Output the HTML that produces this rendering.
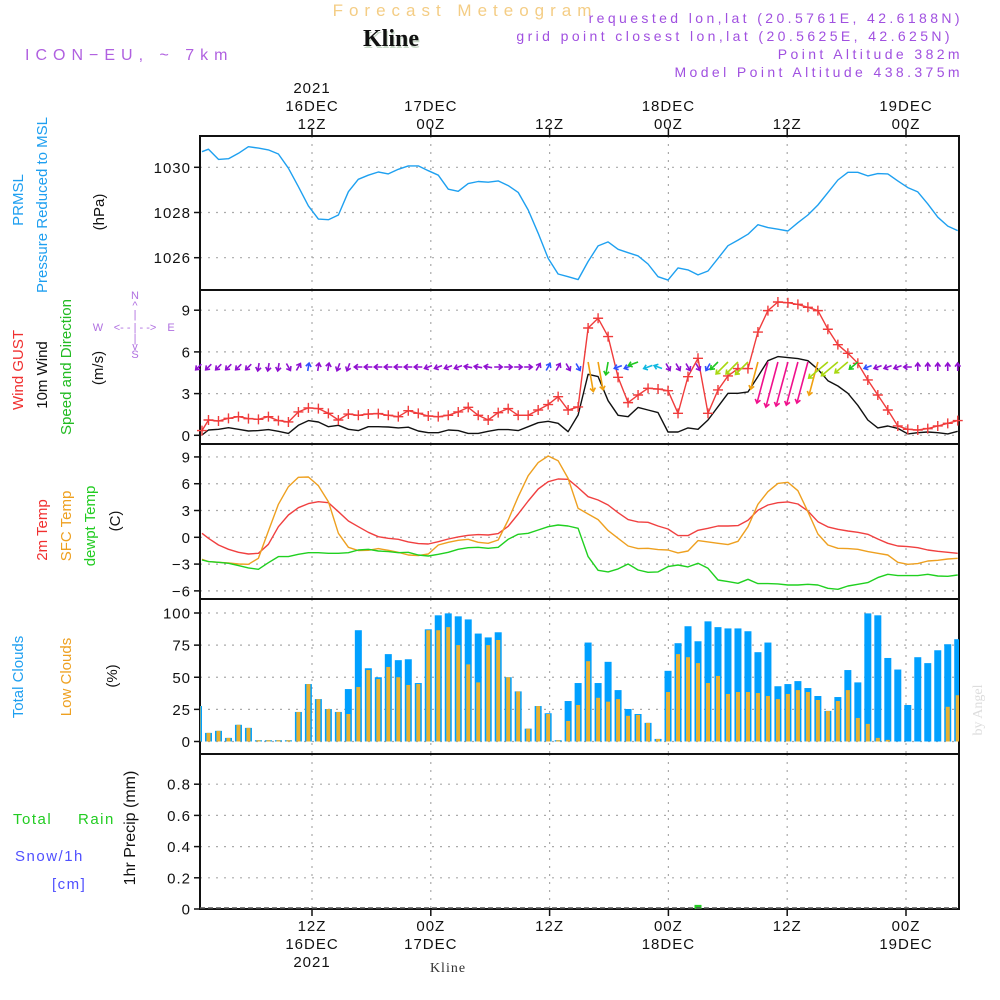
<!DOCTYPE html>
<html><head><meta charset="utf-8">
<style>
html,body{margin:0;padding:0;background:#fff;}
svg{display:block;font-family:"Liberation Sans",sans-serif;}
.tk{font-size:15px;fill:#111;letter-spacing:1px;}
</style></head>
<body>
<svg id="chart" width="1000" height="1000" viewBox="0 0 1000 1000" xmlns="http://www.w3.org/2000/svg">
<text x="465" y="16" text-anchor="middle" font-size="17" fill="#f4cd85" letter-spacing="6">Forecast Meteogram</text>
<text x="392" y="48" text-anchor="middle" font-size="24" font-weight="bold" font-family="Liberation Serif,serif" fill="#c8d8c8">Kline</text>
<text x="391" y="46" text-anchor="middle" font-size="24" font-weight="bold" font-family="Liberation Serif,serif" fill="#111">Kline</text>
<text x="25" y="60" font-size="16" fill="#b060e0" letter-spacing="6">ICON−EU, ~ 7km</text>
<g font-size="14" fill="#a050e0" text-anchor="end" letter-spacing="3.4">
<text x="963" y="23">requested lon,lat (20.5761E, 42.6188N)</text>
<text x="953" y="41">grid point closest lon,lat (20.5625E, 42.625N)</text>
<text x="963" y="59">Point Altitude 382m</text>
<text x="963" y="77">Model Point Altitude 438.375m</text>
</g>
<g id="axes"></g>
<g id="marks"></g>
<g font-size="15">
<text transform="translate(23,200) rotate(-90)" text-anchor="middle" fill="#1e9ff0">PRMSL</text>
<text transform="translate(47,205) rotate(-90)" text-anchor="middle" fill="#1e9ff0">Pressure Reduced to MSL</text>
<text transform="translate(104,212) rotate(-90)" text-anchor="middle" fill="#111">(hPa)</text>
<text transform="translate(23,370) rotate(-90)" text-anchor="middle" fill="#f03030">Wind GUST</text>
<text transform="translate(47,375) rotate(-90)" text-anchor="middle" fill="#111">10m Wind</text>
<text transform="translate(71,367) rotate(-90)" text-anchor="middle" fill="#22bb22">Speed and Direction</text>
<text transform="translate(103,368) rotate(-90)" text-anchor="middle" fill="#111">(m/s)</text>
<g fill="#b070e0" font-size="11" text-anchor="middle">
<text x="135" y="299">N</text><text x="135" y="309">^</text><text x="135" y="318">|</text>
<text x="98" y="331">W</text><text x="135" y="331">&lt;- - | - -&gt;</text><text x="171" y="331">E</text>
<text x="135" y="342">|</text><text x="135" y="350">v</text><text x="135" y="358">S</text>
</g>
<text transform="translate(47,530) rotate(-90)" text-anchor="middle" fill="#f03030">2m Temp</text>
<text transform="translate(71,526) rotate(-90)" text-anchor="middle" fill="#eea020">SFC Temp</text>
<text transform="translate(95,526) rotate(-90)" text-anchor="middle" fill="#22cc22">dewpt Temp</text>
<text transform="translate(120,521) rotate(-90)" text-anchor="middle" fill="#111">(C)</text>
<text transform="translate(23,677) rotate(-90)" text-anchor="middle" fill="#1e9ff0">Total Clouds</text>
<text transform="translate(71,677) rotate(-90)" text-anchor="middle" fill="#eea020">Low Clouds</text>
<text transform="translate(117,676) rotate(-90)" text-anchor="middle" fill="#111">(%)</text>
<text x="13" y="824" fill="#22cc22" letter-spacing="1.5">Total</text>
<text x="78" y="824" fill="#22cc22" letter-spacing="1.5">Rain</text>
<text x="15" y="861" fill="#5050ff" letter-spacing="1.5">Snow/1h</text>
<text x="52" y="889" fill="#5050ff" letter-spacing="1.5">[cm]</text>
<text transform="translate(135,828) rotate(-90)" text-anchor="middle" fill="#111" font-size="16">1hr Precip (mm)</text>
</g>
<text transform="translate(982,710) rotate(-90)" text-anchor="middle" font-size="14" fill="#dddddd" font-family="Liberation Serif,serif">by Angel</text>
<text x="448" y="972" text-anchor="middle" font-size="14" fill="#333" font-family="Liberation Serif,serif" letter-spacing="1">Kline</text>
</svg>
<script>
// ---- data (hourly, index 0..76) ----
const pressure = [1030.69,1030.80,1030.35,1030.38,1030.62,1030.91,1030.85,1030.77,1030.59,1029.96,1029.14,1028.29,1027.71,1027.68,1027.89,1028.92,1029.47,1029.65,1029.79,1029.71,1029.91,1030.06,1030.06,1029.85,1029.65,1029.03,1028.94,1029.28,1029.37,1029.34,1029.40,1029.19,1028.89,1028.11,1027.08,1025.97,1025.28,1025.16,1025.03,1025.83,1026.52,1026.70,1026.37,1026.22,1026.08,1025.72,1025.16,1025.01,1025.55,1025.46,1025.24,1025.41,1025.97,1026.53,1026.78,1027.04,1027.46,1027.33,1027.26,1027.18,1027.55,1027.89,1028.33,1028.88,1029.44,1029.78,1029.78,1029.62,1029.72,1029.71,1029.40,1029.10,1028.91,1028.38,1027.79,1027.40,1027.20];
const gust = [0.34,1.10,1.03,1.22,1.34,1.20,1.15,1.34,1.06,0.96,1.68,1.97,1.92,1.58,1.10,1.53,1.44,1.53,1.56,1.44,1.34,1.77,1.58,1.39,1.34,1.44,1.68,2.01,1.44,1.10,1.63,1.92,1.44,1.44,1.82,2.21,2.78,1.82,2.04,7.72,8.42,7.10,4.17,2.35,2.90,3.38,3.33,3.21,1.58,4.22,5.54,1.58,3.26,4.27,4.80,4.80,7.43,8.97,9.59,9.54,9.42,9.21,8.97,7.63,6.52,5.90,5.18,3.98,2.90,1.82,0.67,0.43,0.38,0.48,0.67,0.86,1.06];
const wind10 = [0.02,0.38,0.43,0.55,0.43,0.31,0.34,0.41,0.29,0.14,0.72,1.06,0.96,0.62,0.72,0.43,0.34,0.62,0.62,0.60,0.53,0.58,0.31,0.19,0.19,0.38,0.34,0.14,0.14,0.29,0.41,0.41,0.34,0.62,0.91,1.01,0.86,0.26,1.46,4.39,4.22,2.49,1.44,1.34,2.01,1.82,1.63,0.24,0.24,0.53,0.43,1.10,2.06,3.02,3.02,3.12,4.22,5.37,5.66,5.59,5.52,5.37,4.75,3.93,3.55,3.02,2.16,1.10,0.53,0.67,0.50,0.10,0.19,0.24,0.19,0.10,0.29];
const windDir = [225,225,225,225,225,225,260,260,260,300,60,80,80,80,250,250,180,180,180,180,180,180,180,200,200,200,200,170,170,170,0,0,0,0,60,60,60,300,300,280,280,260,200,200,200,200,160,300,300,300,300,240,225,225,225,225,255,255,255,255,255,255,255,220,220,220,220,200,200,200,200,180,90,90,90,90,90];
const temp2m = [0.45,-0.11,-0.86,-1.34,-1.68,-1.87,-1.79,-0.78,1.19,2.50,3.32,3.77,3.99,3.88,2.87,1.83,1.19,0.56,0.07,-0.11,-0.22,-0.52,-0.71,-0.75,-0.49,-0.19,0.04,0.22,0.30,0.26,0.41,1.23,2.61,4.07,5.41,6.23,6.53,6.49,5.56,4.55,4.18,3.62,2.76,1.98,1.72,1.68,1.27,0.93,0.19,0.19,0.78,1.01,1.27,1.27,1.31,1.90,3.02,3.62,3.88,3.96,3.73,2.95,1.75,1.16,0.90,0.71,0.56,0.34,-0.19,-0.67,-0.97,-1.04,-1.16,-1.42,-1.57,-1.68,-1.79];
const tempSfc = [-2.46,-2.72,-2.80,-2.87,-2.99,-3.02,-2.35,0.71,3.69,5.67,6.72,6.75,5.78,3.99,0.45,-1.12,-1.49,-1.46,-1.27,-1.46,-1.68,-1.98,-2.05,-1.87,-0.86,-0.56,-0.34,-0.22,-0.56,-0.67,-0.30,1.94,4.55,6.90,8.36,9.10,8.58,6.60,3.25,2.61,1.98,0.75,-0.11,-0.97,-1.27,-1.23,-1.38,-1.42,-1.75,-1.53,-0.37,-0.52,-0.67,-0.82,-0.45,1.19,3.69,5.11,6.04,6.16,5.22,2.87,0.37,-0.86,-1.23,-1.27,-1.34,-1.60,-1.79,-1.98,-2.80,-3.02,-2.95,-2.65,-2.57,-2.43,-2.35];
const dewpt = [-2.54,-2.72,-2.80,-2.91,-3.17,-3.43,-3.58,-2.84,-2.16,-2.16,-1.90,-1.72,-1.72,-1.79,-1.79,-1.72,-1.42,-1.34,-1.53,-1.60,-1.72,-1.68,-1.98,-2.09,-1.90,-1.68,-1.34,-1.16,-1.12,-1.23,-1.12,-0.22,0.34,0.45,0.82,1.19,1.38,1.27,1.01,-2.16,-3.69,-3.88,-3.54,-2.99,-3.66,-3.92,-3.88,-3.28,-3.10,-3.32,-2.91,-3.47,-4.78,-4.96,-5.15,-4.70,-5.19,-5.19,-5.22,-5.34,-5.34,-5.26,-5.34,-5.71,-5.82,-5.45,-5.26,-5.07,-4.51,-4.14,-4.29,-4.29,-4.29,-4.14,-4.33,-4.37,-4.22];
const totalCloud = [27.6,6.7,8.3,2.8,13,10.6,1,1,1,1,23,44.7,33,25.3,23,40.8,86.6,57,50,68,63.3,64,45.5,87.3,98.2,99.7,97.4,95,84,81,85,50,39,10,27.6,22,1,31.5,45.5,77,45.5,62,40,25.3,21.4,14.5,2,55,76.5,89.7,78,93.5,89,88,88,85.8,69.5,77,43,44.7,47,41.6,35.4,23.8,34.6,55.6,46,99.7,98.2,65,56,28.4,65.6,61,71,75.7,79.6];
const lowCloud = [27.6,6.7,8.3,2.8,13,10.6,1,1,1,1,23,44.7,33,25.3,23,21.4,42.4,55.6,48.6,58,50,44,44.7,86.6,86.6,89,75,60,46,75,79,50,39,10,27.6,21.4,1,16,28.4,62.5,34,31,33,20,20.7,14.5,2,38.5,68,65.6,61,45.5,51,37,38.5,38.5,37.7,35.4,33,37,40,38.5,32.3,23.8,31.5,40,18.3,13.7,2.8,1.3,0,0,0,0,0,27,36];
const precip = new Array(77).fill(0); precip[50] = 0.02;
const pTicks = [1026,1028,1030];
const wTicks = [0,3,6,9];
const tTicks = [-6,-3,0,3,6,9];
const cTicks = [0,25,50,75,100];
const rTicks = [0,0.2,0.4,0.6,0.8];
const timeHours = [12,24,36,48,60,72];
const topLabels = [["2021","16DEC","12Z"],["","17DEC","00Z"],["","","12Z"],["","18DEC","00Z"],["","","12Z"],["","19DEC","00Z"]];
const botLabels = [["12Z","16DEC","2021"],["00Z","17DEC",""],["12Z","",""],["00Z","18DEC",""],["12Z","",""],["00Z","19DEC",""]];

// ---- scales ----
const X0=200, X1=959, PXH=9.9;
function xt(h){ return 312 + (h-12)*PXH; }
function xi(i){ return 198.5 + i*9.99; }
const panels = {
  p:{top:136,bot:290,y:v=>167.3+(1030-v)*22.6},
  w:{top:290,bot:444,y:v=>435.3-v*13.9},
  t:{top:444,bot:599,y:v=>537.3-v*8.93},
  c:{top:599,bot:754,y:v=>741.5-v*1.285},
  r:{top:754,bot:909,y:v=>909-v*156}
};
const NS="http://www.w3.org/2000/svg";
const axes=document.getElementById('axes'), marks=document.getElementById('marks');
function mk(tag,attrs,parent){const e=document.createElementNS(NS,tag);for(const k in attrs)e.setAttribute(k,attrs[k]);parent.appendChild(e);return e;}

function yAxis(p,ticks,key,fmt){
  ticks.forEach(v=>{
    const y=p.y(v);
    const g=mk('line',{x1:X0,x2:X1,y1:y,y2:y,stroke:'#aaa','stroke-width':1.2,'stroke-dasharray':'2 6'},axes);
    
    
    mk('line',{x1:194,x2:X0,y1:y,y2:y,stroke:'#111','stroke-width':1.5},axes);
    const t=mk('text',{x:191,y:y+5.5,'text-anchor':'end',class:'tk'},axes);
    t.textContent=fmt?fmt(v):String(v).replace('-','\u2212');
    
    
  });
}
Object.keys(panels).forEach(k=>{
  const p=panels[k];
  timeHours.forEach(h=>{
    const x=xt(h);
    const g=mk('line',{x1:x,x2:x,y1:p.top,y2:p.bot,stroke:'#aaa','stroke-width':1.2,'stroke-dasharray':'2 6'},axes);
    
    
  });
});
yAxis(panels.p,pTicks,'pressure');
yAxis(panels.w,wTicks,'wind');
yAxis(panels.t,tTicks,'temp');
yAxis(panels.c,cTicks,'cloud');
yAxis(panels.r,rTicks,'precip',v=>v===0?'0':v.toFixed(1));
timeHours.forEach((h,j)=>{
  const x=xt(h);
  mk('line',{x1:x,x2:x,y1:129,y2:136,stroke:'#111','stroke-width':1.5},axes);
  mk('line',{x1:x,x2:x,y1:909,y2:916,stroke:'#111','stroke-width':1.5},axes);
  topLabels[j].forEach((s,r)=>{ if(!s)return;
    const t=mk('text',{x:x,y:93+r*18,'text-anchor':'middle',class:'tk','font-size':16},axes); t.textContent=s;
    
    
  });
  botLabels[j].forEach((s,r)=>{ if(!s)return;
    const t=mk('text',{x:x,y:931+r*18,'text-anchor':'middle',class:'tk','font-size':16},axes); t.textContent=s;
    
    
  });
});

totalCloud.forEach((v,i)=>{
  const x=xi(i), y=panels.c.y(v);
  const l=Math.max(X0,x-3.5), r=Math.min(X1,x+3.5);
  const b=mk('rect',{x:l,y:y,width:Math.max(0,r-l),height:741.5-y,fill:'#00a0ff'},marks);
  
  
  const lv=lowCloud[i]; if(lv<=0) return;
  const y2=panels.c.y(lv), l2=Math.max(X0,x-2), r2=Math.min(X1,x+2);
  const b2=mk('rect',{x:l2,y:y2,width:Math.max(0,r2-l2),height:741.5-y2,fill:'#e8b030'},marks);
  
  
});
precip.forEach((v,i)=>{
  if(v<=0) return;
  const y=panels.r.y(v);
  const b=mk('rect',{x:xi(i)-3.5,y:y-1,width:7,height:909-y+1,fill:'#22cc22'},marks);
  
  
});
mk('line',{x1:X0,x2:X1,y1:908,y2:908,stroke:'#555','stroke-width':1.5,'stroke-dasharray':'5 3'},marks);

function line(arr,p,color,name,w){
  const d=arr.map((v,i)=>(i?'L':'M')+Math.max(X0+2,xi(i)).toFixed(1)+','+p.y(v).toFixed(1)).join('');
  const e=mk('path',{d:d,fill:'none',stroke:color,'stroke-width':w||1.4,'stroke-linejoin':'round'},marks);
  
  
}
line(pressure,panels.p,'#1ea0f0','pressure-line');
line(wind10,panels.w,'#111','wind-10m-line');
line(gust,panels.w,'#f03c3c','wind-gust-line');
gust.forEach((v,i)=>{
  const x=Math.max(X0+2,xi(i)), y=panels.w.y(v);
  const m=mk('path',{d:`M${x-5},${y}H${x+5}M${x},${y-5}V${y+5}`,stroke:'#f03c3c','stroke-width':1.4},marks);
  
  
});
function wcol(s){ if(s<1)return '#9010d0'; if(s<1.5)return '#3050ff'; if(s<2)return '#10b8e0'; if(s<3)return '#20c820'; if(s<4)return '#a8d810'; if(s<5)return '#f0a010'; return '#f0108c'; }
windDir.forEach((a,i)=>{
  const s=wind10[i], len=Math.max(8,Math.min(48,5+1.3*s*s)), c=wcol(s);
  const rad=a*Math.PI/180, dx=Math.cos(rad), dy=-Math.sin(rad);
  const big=len>10;
  const x0=xi(i)+ (big?0:-dx*len/2), y0=(big?362:367)+(big?0:-dy*len/2);
  const x1=x0+dx*len, y1=y0+dy*len, h=4.5;
  const ax=x1-h*(dx*0.8-dy*0.6), ay=y1-h*(dy*0.8+dx*0.6);
  const bx=x1-h*(dx*0.8+dy*0.6), by=y1-h*(dy*0.8-dx*0.6);
  const e=mk('path',{d:`M${x0},${y0}L${x1},${y1}M${ax},${ay}L${x1},${y1}L${bx},${by}`,fill:'none',stroke:c,'stroke-width':1.6},marks);
  
  
});
line(temp2m,panels.t,'#f04040','temp-2m-line');
line(tempSfc,panels.t,'#eea020','temp-sfc-line');
line(dewpt,panels.t,'#20d020','dewpoint-line');

Object.keys(panels).forEach(k=>{
  const p=panels[k];
  const f=mk('rect',{x:X0,y:p.top,width:X1-X0,height:p.bot-p.top,fill:'none',stroke:'#111','stroke-width':2},axes);
  
  
});
</script>
</body></html>
